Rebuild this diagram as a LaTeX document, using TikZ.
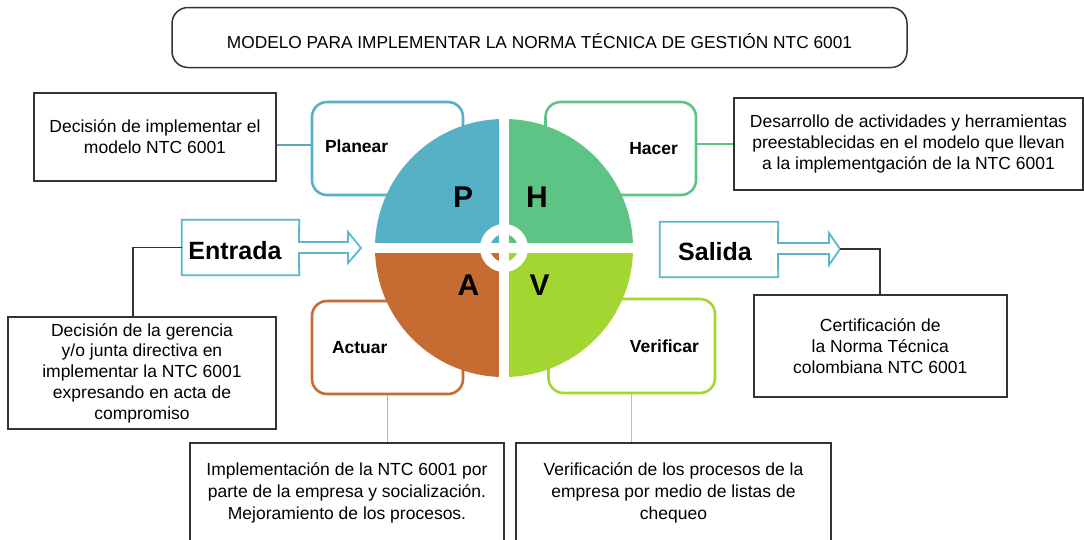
\documentclass[tikz,border=0pt]{standalone}
\usepackage{fontspec}
\setmainfont{Liberation Sans}
\usetikzlibrary{calc}
\definecolor{pcol}{HTML}{56B0C6}
\definecolor{hcol}{HTML}{5EC486}
\definecolor{acol}{HTML}{C66C33}
\definecolor{vcol}{HTML}{A3D630}
\definecolor{edge}{HTML}{333333}
\definecolor{arrowblue}{HTML}{5CB6CC}
\begin{document}
\begin{tikzpicture}[x=1pt,y=-1pt,
 body/.style={font=\fontsize{17.5}{21}\selectfont, align=center},
 blkbox/.style={draw=edge, line width=2pt, fill=white, inner sep=0pt},
 phase/.style={rounded corners=15pt, line width=2.6pt, fill=white, inner sep=0pt, font=\fontsize{17.5}{21}\selectfont\bfseries},
 letter/.style={font=\fontsize{30}{30}\selectfont\bfseries, inner sep=0pt},
 io/.style={font=\fontsize{25}{25}\selectfont\bfseries, inner sep=0pt},
 ioshape/.style={draw=arrowblue, line width=1.8pt, fill=white},
 blkline/.style={draw=edge, line width=1.6pt},
]
\useasboundingbox (0,0) rectangle (1084,539);
\fill[white] (0,0) rectangle (1084,539);

% title
\node[draw=edge, line width=1.5pt, rounded corners=16pt, minimum width=735pt, minimum height=60pt, inner sep=0pt] (titlebox) at (539.5,37.5) {};
\node[font=\fontsize{17.3}{20}\selectfont, inner sep=0pt] (title) at (539.5,41) {MODELO PARA IMPLEMENTAR LA NORMA TÉCNICA DE GESTIÓN NTC 6001};

% text boxes
\node[blkbox, body, minimum width=242pt, minimum height=88pt] (d1) at (155,137) {Decisión de implementar el\\modelo NTC 6001};
\node[blkbox, body, minimum width=349pt, minimum height=92pt] (d2) at (908.5,144) {Desarrollo de actividades y herramientas\\preestablecidas en el modelo que llevan\\a la implementgación de la NTC 6001};
\node[blkbox, body, minimum width=268pt, minimum height=112pt, font=\fontsize{17.5}{20.7}\selectfont] (d3) at (142,373) {Decisión de la gerencia\\y/o junta directiva en\\implementar la NTC 6001\\expresando en acta de\\compromiso};
\node[blkbox, body, minimum width=253.5pt, minimum height=102pt] (d4) at (880.25,346) {Certificación de\\la Norma Técnica\\colombiana NTC 6001};
\node[blkbox, minimum width=314pt, minimum height=120pt, anchor=north] (d5) at (347,442) {};
\node[body, inner sep=0pt, font=\fontsize{17.5}{22}\selectfont] (d5t) at (347,493) {Implementación de la NTC 6001 por\\parte de la empresa y socialización.\\Mejoramiento de los procesos.};
\node[blkbox, minimum width=315pt, minimum height=120pt, anchor=north] (d6) at (673.5,442) {};
\node[body, inner sep=0pt, font=\fontsize{17.5}{22}\selectfont] (d6t) at (673.5,493) {Verificación de los procesos de la\\empresa por medio de listas de\\chequeo};

% phase boxes
\node[phase, draw=pcol, minimum width=151pt, minimum height=93pt, text width=125pt, align=left] (planear) at (387.5,148.5) {\raisebox{4.5pt}{Planear}};
\node[phase, draw=hcol, minimum width=150.5pt, minimum height=93pt, text width=114.5pt, align=right] (hacer) at (620.75,148.5) {Hacer};
\node[phase, draw=acol, minimum width=151pt, minimum height=93pt, text width=111pt, align=left] (actuar) at (387.5,347.5) {Actuar};
\node[phase, draw=vcol, minimum width=166.5pt, minimum height=94pt, text width=134.5pt, align=right] (verificar) at (631.75,346) {Verificar};

% connectors from phases
\draw[pcol!80!gray, line width=1.6pt] ([yshift=3.5pt]planear.west) -- ([yshift=3.5pt]planear.west -| d1.east);
\draw[hcol, line width=1.6pt] (d2.west) -- (d2.west -| hacer.east);
\draw[acol!60!white, line width=1.4pt] (actuar.south) -- (actuar.south |- d5.north);
\draw[vcol!85!white, line width=1.4pt] (verificar.south) -- (verificar.south |- d6.north);

% PHVA circle
\coordinate (C) at (504,248);
\fill[pcol] (C) -- ++(-129,0) arc[start angle=180, end angle=270, radius=129] -- cycle;
\fill[hcol] (C) -- ++(0,-129) arc[start angle=270, end angle=360, radius=129] -- cycle;
\fill[vcol] (C) -- ++(129,0) arc[start angle=0, end angle=90, radius=129] -- cycle;
\fill[acol] (C) -- ++(0,129) arc[start angle=90, end angle=180, radius=129] -- cycle;
\draw[white, line width=10pt] ($(C)+(-130,0)$) -- ($(C)+(130,0)$);
\draw[white, line width=10pt] ($(C)+(0,-130)$) -- ($(C)+(0,130)$);
\draw[white, line width=10pt] (C) circle[radius=19];
\node[letter] (P) at (463,197) {P};
\node[letter] (H) at (537,197.5) {H};
\node[letter] (A) at (468.5,285.5) {A};
\node[letter] (V) at (539.5,285.5) {V};

% Entrada
\node[minimum width=117pt, minimum height=55pt, inner sep=0pt] (entrada) at (240.5,247.5) {};
\draw[ioshape] (entrada.north west) -- (entrada.north east) -- (299,242) -- (348,242) -- (348,232) -- (361,248) coordinate (etip) -- (348,263) -- (348,253) -- (299,253) -- (entrada.south east) -- (entrada.south west) -- cycle;
\node[io] (entradat) at (235,251) {Entrada};

% Salida
\node[minimum width=118pt, minimum height=55pt, inner sep=0pt] (salida) at (719,249.5) {};
\draw[ioshape] (salida.north west) -- (salida.north east) -- (778,243) -- (829,243) -- (829,233) -- (840,249) coordinate (stip) -- (829,265) -- (829,254) -- (778,254) -- (salida.south east) -- (salida.south west) -- cycle;
\node[io] (salidat) at (715,252) {Salida};

% black connectors
\draw[blkline] (entrada.west) -| ($(d3.north)+(-9,0)$);
\draw[blkline] (stip) -| (d4.north);
\end{tikzpicture}
\end{document}
